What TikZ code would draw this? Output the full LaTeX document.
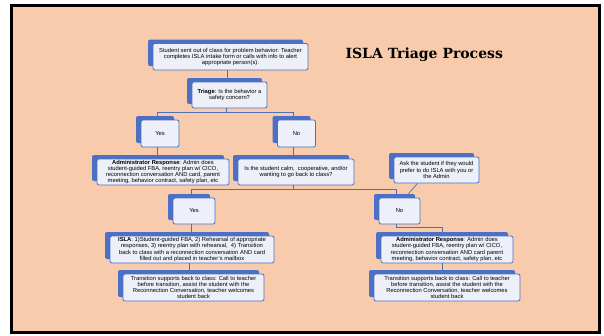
\documentclass[tikz,border=0pt]{standalone}
\usepackage{fontspec}
\setmainfont{Liberation Sans}
\newfontfamily\titlefont{DejaVu Serif}
\usetikzlibrary{shadows,calc}
\definecolor{peach}{HTML}{F8CBAD}
\definecolor{boxfill}{HTML}{EDF0F9}
\definecolor{boxline}{HTML}{4A70C2}
\definecolor{backblue}{HTML}{4C70C6}
\definecolor{linkblue}{HTML}{4F71B0}
\begin{document}
\begin{tikzpicture}[x=1pt, y=-1pt, every node/.style={font=\fontsize{5.8}{6.1}\selectfont}]
	\tikzstyle{box} = [rectangle, draw=boxline, fill=boxfill, line width=0.8pt, rounded corners=2pt, align=center, inner xsep=1.5pt, inner ysep=1pt, general shadow={fill=backblue, shadow xshift=-5pt, shadow yshift=4pt}]
	\tikzstyle{answer} = [box, minimum width=38pt, minimum height=27pt]
	\tikzstyle{link} = [draw=linkblue, line width=0.7pt]
	
	\useasboundingbox (0,0) rectangle (604,335);
	\draw[line width=3pt, fill=peach] (11.5,5.5) rectangle (599.5,332.5);
	\node[anchor=base west, font=\titlefont\bfseries\fontsize{14}{16}\selectfont] (title) at (342,58) {ISLA Triage Process};
	
	\node[box, minimum width=155pt, minimum height=26.5pt] (start) at (230.5,56.75) {Student sent out of class for problem behavior: Teacher\\completes ISLA intake form or calls with info to alert\\appropriate person(s).};
	\node[box, minimum width=75pt, minimum height=26pt] (triage) at (229.5,95) {\textbf{Triage}: Is the behavior a\\safety concern?};
	\node[answer] (yes1) at (160,133.5) {Yes};
	\node[answer] (no1) at (296.5,133.5) {No};
	\node[box, minimum width=132pt, minimum height=26pt] (adminL) at (163,172) {\textbf{Administrator Response}: Admin does\\student-guided FBA, reentry plan w/ CICO,\\reconnection conversation AND card, parent\\meeting, behavior contract, safety plan, etc};
	\node[box, minimum width=116pt, minimum height=26pt] (calm) at (296,172) {Is the student calm,\ \ cooperative, and/or\\wanting to go back to class?};
	\node[box, minimum width=85pt, minimum height=26pt] (ask) at (436.5,170) {Ask the student if they would\\prefer to do ISLA with you or\\the Admin};
	\node[answer, minimum width=42pt, minimum height=26pt] (yes2) at (194,211) {Yes};
	\node[answer, minimum width=41pt, minimum height=26pt] (no2) at (399.5,211) {No};
	\node[box, minimum width=164pt, minimum height=27pt] (isla) at (192,249.5) {\textbf{ISLA}: 1)Student-guided FBA, 2) Rehearsal of appropriate\\responses, 3) reentry plan with rehearsal,\ \ 4) Transition\\back to class with a reconnection conversation AND card\\filled out and placed in teacher's mailbox};
	\node[box, minimum width=141pt, minimum height=27pt] (transL) at (193.5,287.5) {Transition supports back to class: Call to teacher\\before transition, assist the student with the\\Reconnection Conversation, teacher welcomes\\student back};
	\node[box, minimum width=132pt, minimum height=27pt] (adminR) at (447,249.5) {\textbf{Administrator Response}: Admin does\\student-guided FBA, reentry plan w/ CICO,\\reconnection conversation AND card parent\\meeting, behavior contract, safety plan, etc};
	\node[box, minimum width=146pt, minimum height=27pt] (transR) at (447,287.5) {Transition supports back to class: Call to teacher\\before transition, assist the student with the\\Reconnection Conversation, teacher welcomes\\student back};
	
	\draw[link] ($(start.south)+(-3,0)$) -- ($(start.south |- triage.north)+(-3,-4)$);
	\draw[link] ($(triage.south)+(-3,0)$) -- ++(0,4) -| ($(yes1.north)+(-3,-4)$);
	\draw[link] ($(triage.south)+(-3,0)$) -- ++(0,4) -| ($(no1.north)+(-3,-4)$);
	\draw[link] ($(yes1.south)+(-3,0)$) -- ($(yes1.south |- adminL.north)+(-3,-4)$);
	\draw[link] ($(no1.south)+(-3,0)$) -- ($(no1.south |- calm.north)+(-3,-4)$);
	\draw[link] ($(calm.south)+(-3,0)$) -- ++(0,4) -| ($(yes2.north)+(-3,-4)$);
	\draw[link] ($(calm.south)+(-3,0)$) -- ++(0,4) -| ($(no2.north)+(-3,-4)$);
	\draw[link] ($(ask.south)+(-19,0)$) -- ($(no2.north)+(9,-4)$);
	\draw[link] ($(yes2.south)+(-3,0)$) -- ($(yes2.south |- isla.north)+(-3,-4)$);
	\draw[link] ($(isla.south)+(-3,0)$) -- ($(isla.south |- transL.north)+(-3,-4)$);
	\draw[link] ($(no2.south)+(-3,0)$) -- ++(0,3) -| ($(adminR.north)+(-5,-4)$);
	\draw[link] ($(adminR.south)+(-5,0)$) -- ($(adminR.south |- transR.north)+(-5,-4)$);
\end{tikzpicture}
\end{document}
